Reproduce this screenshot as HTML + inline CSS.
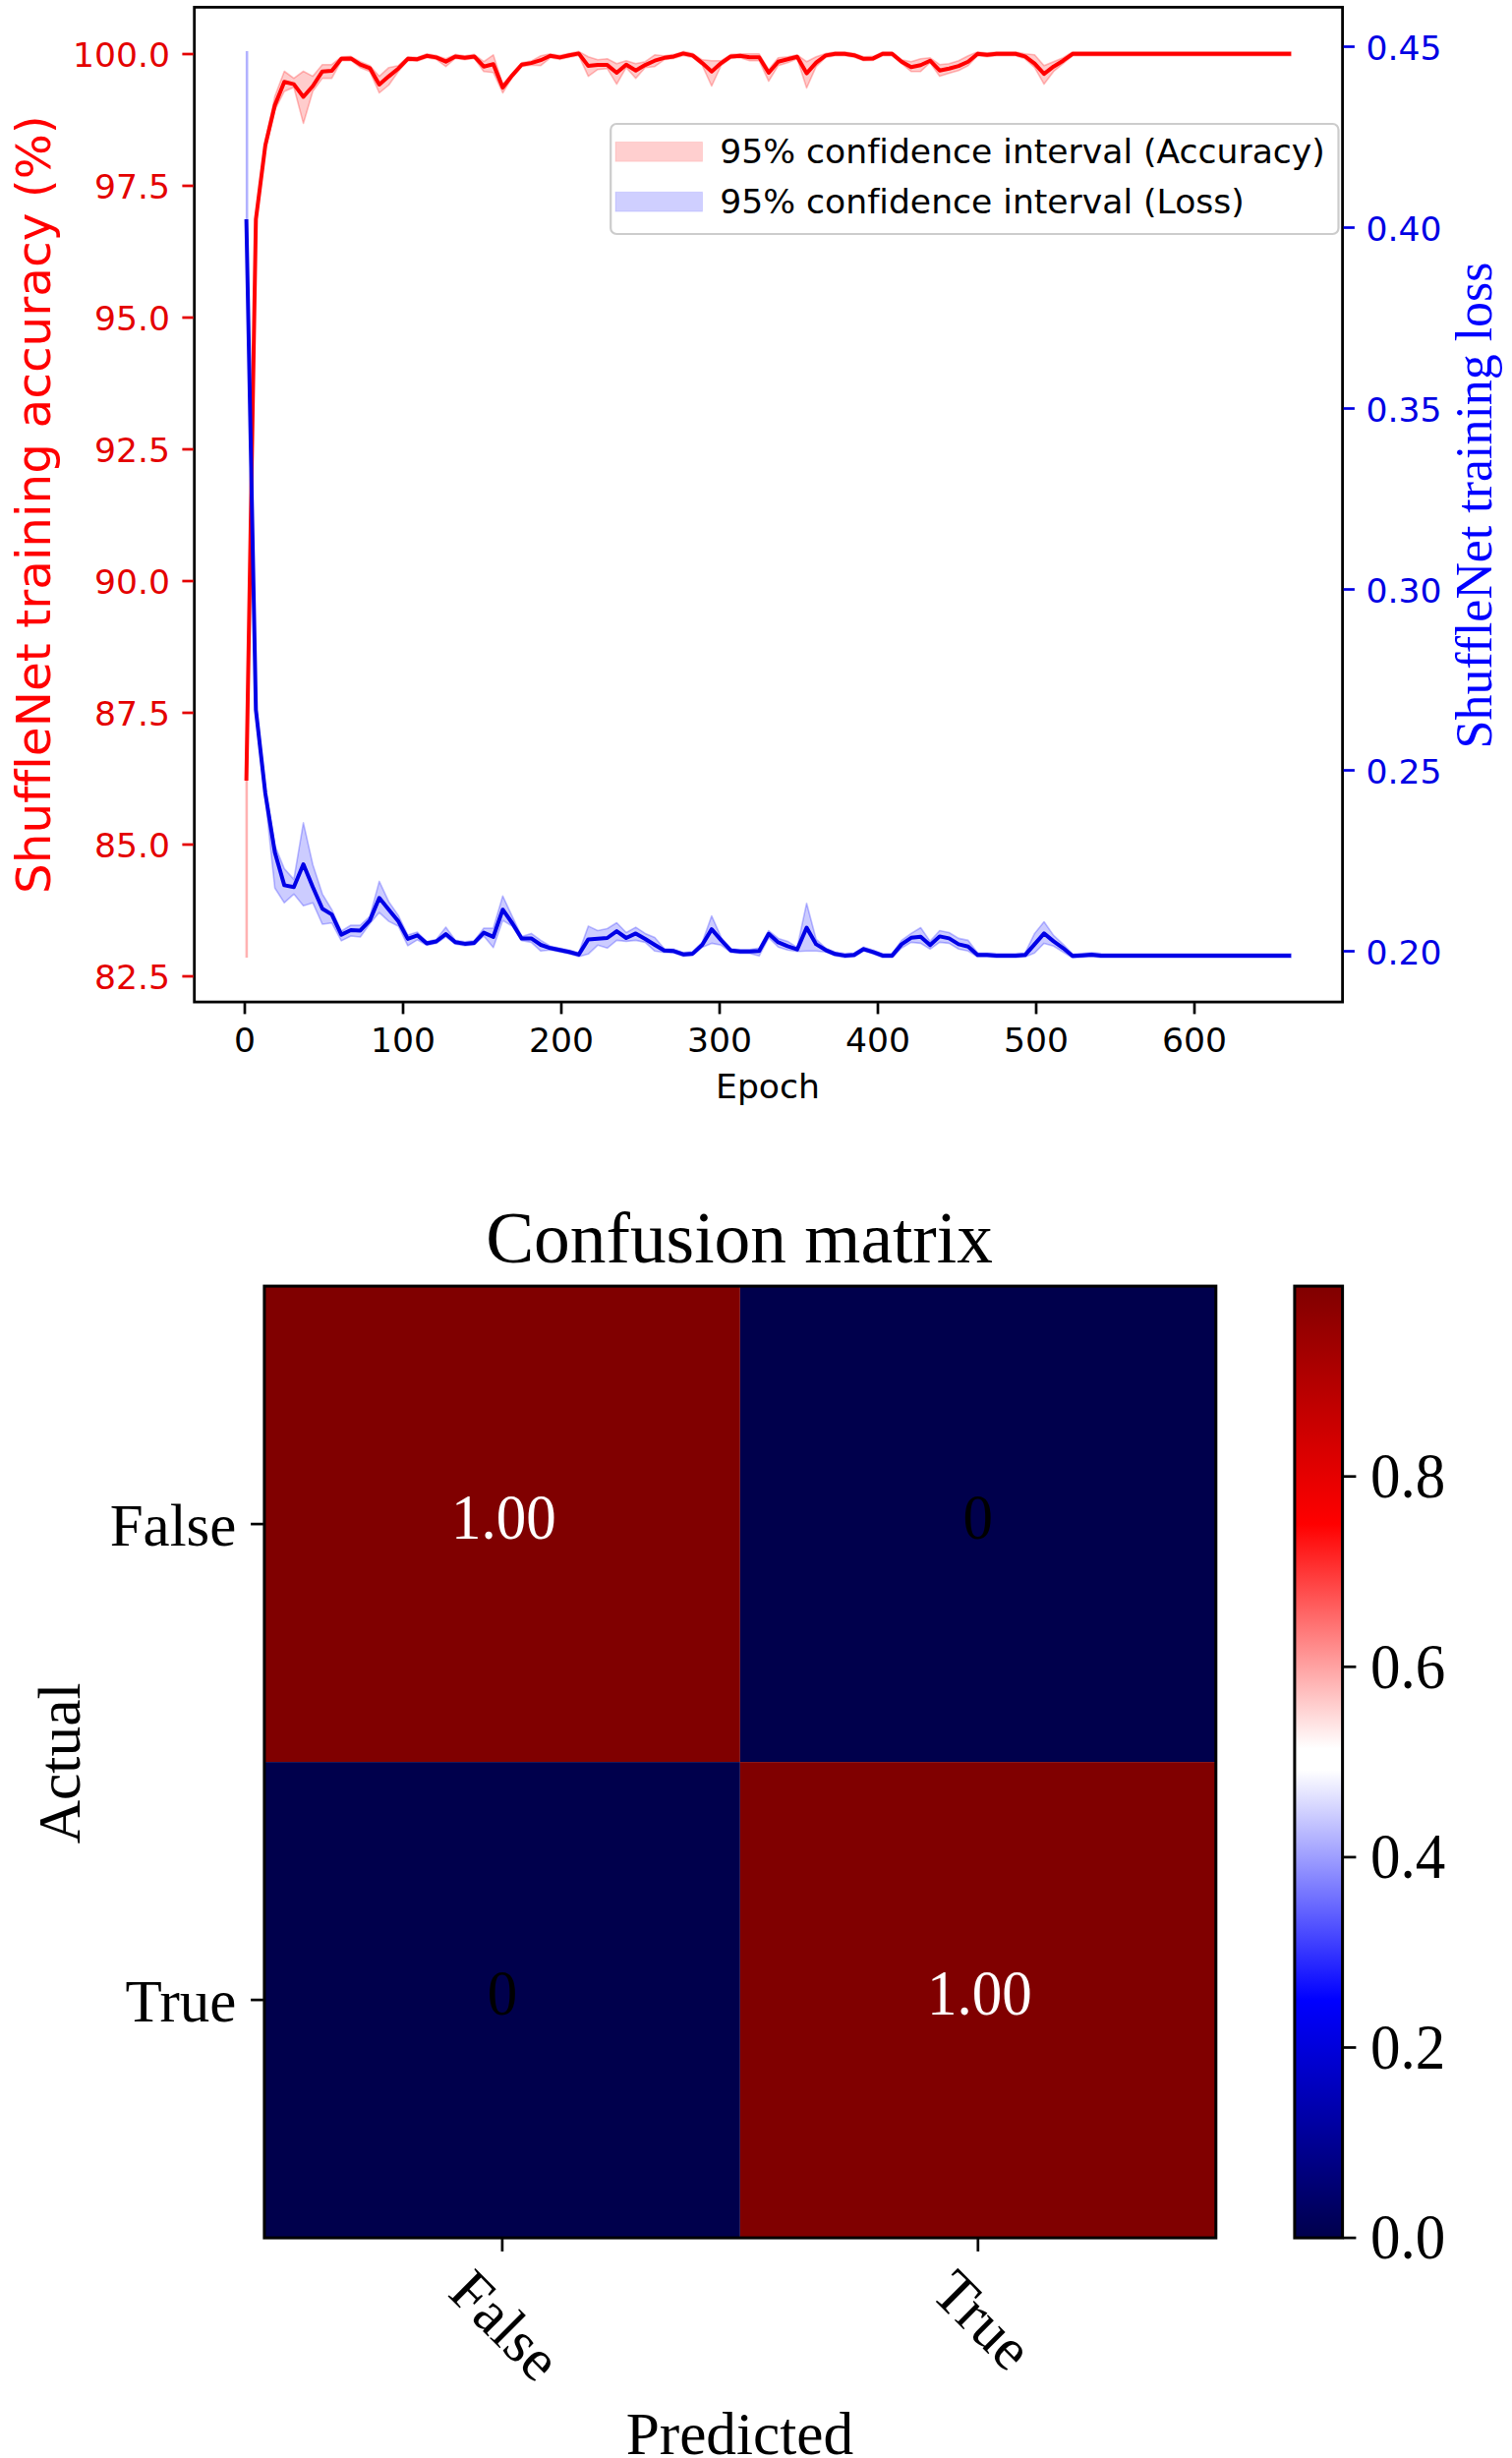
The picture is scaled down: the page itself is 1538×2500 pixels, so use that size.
<!DOCTYPE html>
<html><head><meta charset="utf-8"><title>ShuffleNet training curves and confusion matrix</title>
<style>
html,body{margin:0;padding:0;background:#fff;}
body{width:1538px;height:2500px;overflow:hidden;}
svg{display:block;}
text{font-variant-ligatures:none;font-kerning:normal;}
.top text{font-family:"DejaVu Sans","Liberation Sans",sans-serif;}
.cm text,.top text.ser{font-family:"Liberation Serif","DejaVu Serif",serif;}
</style></head>
<body>
<svg width="1538" height="2500" viewBox="0 0 1538 2500">
<defs>
<linearGradient id="seis" x1="0" y1="1" x2="0" y2="0">
<stop offset="0" stop-color="#00004c"/><stop offset="0.25" stop-color="#0000ff"/><stop offset="0.492" stop-color="#ffffff"/><stop offset="0.514" stop-color="#ffffff"/><stop offset="0.75" stop-color="#ff0000"/><stop offset="1" stop-color="#800000"/>
</linearGradient>
</defs>
<rect x="0" y="0" width="1538" height="2500" fill="#fff"/>
<g class="top">
<rect x="197.7" y="7.35" width="1167.8999999999999" height="1011.75" fill="#fff" stroke="none"/>
<polygon points="260.3,221.0 269.9,143.0 279.6,98.0 289.2,72.5 298.9,79.6 308.6,72.5 318.2,77.6 327.9,65.7 337.5,65.7 347.2,57.8 356.9,57.4 366.5,62.7 376.2,66.7 385.8,77.6 395.5,68.7 405.2,66.7 414.8,57.8 424.5,58.2 434.1,54.8 443.8,56.4 453.5,59.8 463.1,55.4 472.8,56.8 482.4,55.4 492.1,62.7 501.8,55.8 511.4,85.6 521.1,74.6 530.7,63.7 540.4,62.1 550.1,56.8 559.7,54.8 569.4,56.4 579.0,54.2 588.7,52.4 598.4,57.8 608.0,60.8 617.7,59.8 627.3,64.7 637.0,61.7 646.7,64.7 656.3,62.7 666.0,55.8 675.6,56.8 685.3,55.4 695.0,52.4 704.6,54.4 714.3,60.8 723.9,61.7 733.6,61.7 743.3,55.4 752.9,54.8 762.6,54.8 772.2,54.8 781.9,70.7 791.6,58.8 801.2,57.8 810.9,55.8 820.5,62.7 830.2,57.8 839.9,54.4 849.5,52.8 859.2,52.8 868.8,54.2 878.5,57.8 888.2,57.4 897.8,52.8 907.5,52.8 917.1,60.7 926.8,62.7 936.5,59.8 946.1,58.8 955.8,65.7 965.4,64.7 975.1,61.7 984.8,56.8 994.4,52.8 1004.1,53.8 1013.7,52.8 1023.4,52.8 1033.1,52.8 1042.7,54.8 1052.4,55.8 1062.0,66.7 1071.7,62.7 1081.4,58.8 1091.0,52.8 1100.7,52.8 1110.3,52.8 1120.0,52.8 1129.7,52.8 1139.3,52.8 1149.0,52.8 1158.6,52.8 1168.3,52.8 1178.0,52.8 1187.6,52.8 1197.3,52.8 1206.9,52.8 1216.6,52.8 1226.3,52.8 1235.9,52.8 1245.6,52.8 1255.2,52.8 1264.9,52.8 1274.6,52.8 1284.2,52.8 1293.9,52.8 1303.5,52.8 1313.2,52.8 1313.2,56.8 1303.5,56.8 1293.9,56.8 1284.2,56.8 1274.6,56.8 1264.9,56.8 1255.2,56.8 1245.6,56.8 1235.9,56.8 1226.3,56.8 1216.6,56.8 1206.9,56.8 1197.3,56.8 1187.6,56.8 1178.0,56.8 1168.3,56.8 1158.6,56.8 1149.0,56.8 1139.3,56.8 1129.7,56.8 1120.0,56.8 1110.3,56.8 1100.7,56.8 1091.0,56.8 1081.4,64.7 1071.7,72.7 1062.0,85.6 1052.4,68.7 1042.7,59.8 1033.1,56.8 1023.4,56.8 1013.7,56.8 1004.1,57.8 994.4,56.8 984.8,66.7 975.1,71.7 965.4,74.6 955.8,77.6 946.1,63.7 936.5,72.7 926.8,72.7 917.1,64.7 907.5,56.8 897.8,56.8 888.2,61.4 878.5,61.8 868.8,58.2 859.2,56.8 849.5,56.8 839.9,58.4 830.2,67.7 820.5,89.5 810.9,59.8 801.2,63.7 791.6,66.7 781.9,82.6 772.2,61.7 762.6,61.7 752.9,58.8 743.3,59.4 733.6,66.5 723.9,87.5 714.3,66.5 704.6,58.4 695.0,56.4 685.3,59.4 675.6,60.8 666.0,67.7 656.3,68.7 646.7,79.6 637.0,68.7 627.3,85.6 617.7,69.7 608.0,70.7 598.4,77.6 588.7,56.4 579.0,58.2 569.4,60.4 559.7,58.8 550.1,66.7 540.4,66.1 530.7,67.7 521.1,78.6 511.4,94.5 501.8,73.7 492.1,72.7 482.4,59.4 472.8,60.8 463.1,59.4 453.5,67.7 443.8,60.4 434.1,58.8 424.5,62.2 414.8,61.8 405.2,72.7 395.5,86.5 385.8,94.5 376.2,72.7 366.5,68.7 356.9,61.4 347.2,61.8 337.5,79.6 327.9,79.6 318.2,92.8 308.6,125.4 298.9,88.8 289.2,93.0 279.6,112.0 269.9,152.0 260.3,225.0" fill="#ff0000" fill-opacity="0.2" stroke="#ff0000" stroke-opacity="0.25" stroke-width="1.6" stroke-linejoin="round"/>
<polygon points="260.3,716.0 269.9,801.0 279.6,860.0 289.2,883.5 298.9,894.4 308.6,836.9 318.2,879.5 327.9,909.3 337.5,925.2 347.2,947.0 356.9,941.0 366.5,941.0 376.2,932.1 385.8,896.4 395.5,917.2 405.2,931.1 414.8,951.0 424.5,948.0 434.1,957.5 443.8,955.5 453.5,943.0 463.1,956.3 472.8,957.9 482.4,956.9 492.1,944.0 501.8,944.0 511.4,911.3 521.1,932.1 530.7,952.6 540.4,949.4 550.1,956.4 559.7,962.3 569.4,964.3 579.0,966.3 588.7,968.9 598.4,941.9 608.0,946.5 617.7,944.5 627.3,938.5 637.0,948.5 646.7,943.1 656.3,949.4 666.0,953.4 675.6,964.7 685.3,965.3 695.0,968.7 704.6,967.9 714.3,958.4 723.9,931.6 733.6,953.4 743.3,964.7 752.9,965.7 762.6,965.7 772.2,964.3 781.9,946.5 791.6,954.4 801.2,957.4 810.9,963.7 820.5,918.7 830.2,955.4 839.9,964.3 849.5,968.3 859.2,969.9 868.8,969.3 878.5,963.3 888.2,966.3 897.8,969.9 907.5,969.9 917.1,956.4 926.8,949.4 936.5,943.5 946.1,957.4 955.8,946.5 965.4,948.5 975.1,954.4 984.8,956.4 994.4,969.3 1004.1,969.3 1013.7,969.9 1023.4,969.9 1033.1,969.9 1042.7,969.3 1052.4,949.4 1062.0,937.5 1071.7,951.4 1081.4,960.4 1091.0,970.3 1100.7,969.7 1110.3,968.9 1120.0,969.9 1129.7,970.0 1139.3,970.0 1149.0,970.0 1158.6,970.0 1168.3,970.0 1178.0,970.0 1187.6,970.0 1197.3,970.0 1206.9,970.0 1216.6,970.0 1226.3,970.0 1235.9,970.0 1245.6,970.0 1255.2,970.0 1264.9,970.0 1274.6,970.0 1284.2,970.0 1293.9,970.0 1303.5,970.0 1313.2,970.0 1313.2,974.0 1303.5,974.0 1293.9,974.0 1284.2,974.0 1274.6,974.0 1264.9,974.0 1255.2,974.0 1245.6,974.0 1235.9,974.0 1226.3,974.0 1216.6,974.0 1206.9,974.0 1197.3,974.0 1187.6,974.0 1178.0,974.0 1168.3,974.0 1158.6,974.0 1149.0,974.0 1139.3,974.0 1129.7,974.0 1120.0,973.9 1110.3,972.9 1100.7,973.7 1091.0,974.3 1081.4,968.3 1071.7,962.3 1062.0,959.4 1052.4,969.3 1042.7,973.3 1033.1,973.9 1023.4,973.9 1013.7,973.9 1004.1,973.3 994.4,973.3 984.8,967.3 975.1,965.3 965.4,959.4 955.8,958.4 946.1,965.3 936.5,959.4 926.8,958.4 917.1,964.3 907.5,973.9 897.8,973.9 888.2,970.3 878.5,967.3 868.8,973.3 859.2,973.9 849.5,972.3 839.9,968.3 830.2,967.3 820.5,967.3 810.9,967.7 801.2,966.3 791.6,963.3 781.9,953.8 772.2,972.3 762.6,969.7 752.9,969.7 743.3,968.7 733.6,961.3 723.9,959.4 714.3,963.5 704.6,971.9 695.0,972.7 685.3,969.3 675.6,968.7 666.0,967.3 656.3,958.4 646.7,956.4 637.0,957.4 627.3,956.4 617.7,964.3 608.0,961.3 598.4,970.3 588.7,972.9 579.0,970.3 569.4,968.3 559.7,966.3 550.1,967.3 540.4,958.4 530.7,956.6 521.1,942.0 511.4,936.1 501.8,963.8 492.1,951.9 482.4,960.9 472.8,961.9 463.1,960.3 453.5,952.9 443.8,959.5 434.1,961.5 424.5,955.9 414.8,961.9 405.2,942.0 395.5,937.1 385.8,928.1 376.2,939.5 366.5,953.0 356.9,952.0 347.2,956.9 337.5,938.7 327.9,940.0 318.2,918.2 308.6,921.2 298.9,909.3 289.2,918.2 279.6,903.3 269.9,813.0 260.3,728.0" fill="#0000ff" fill-opacity="0.2" stroke="#0000ff" stroke-opacity="0.25" stroke-width="1.6" stroke-linejoin="round"/>
<rect x="249.6" y="794" width="2.6" height="180" fill="#ff0000" fill-opacity="0.3"/>
<rect x="249.9" y="52" width="2.6" height="171" fill="#0000ff" fill-opacity="0.3"/>
<polyline points="250.6,794.0 260.3,223.0 269.9,147.7 279.6,107.0 289.2,83.2 298.9,85.6 308.6,98.5 318.2,87.5 327.9,72.7 337.5,72.1 347.2,59.8 356.9,59.4 366.5,65.7 376.2,69.3 385.8,86.0 395.5,77.6 405.2,69.7 414.8,59.8 424.5,60.2 434.1,56.8 443.8,58.4 453.5,62.7 463.1,57.4 472.8,58.8 482.4,57.4 492.1,67.7 501.8,65.3 511.4,89.1 521.1,76.6 530.7,65.7 540.4,64.1 550.1,61.2 559.7,56.8 569.4,58.4 579.0,56.2 588.7,54.4 598.4,67.1 608.0,66.1 617.7,66.1 627.3,74.0 637.0,65.7 646.7,71.7 656.3,66.1 666.0,61.7 675.6,58.8 685.3,57.4 695.0,54.4 704.6,56.4 714.3,64.1 723.9,72.7 733.6,64.1 743.3,57.4 752.9,56.8 762.6,58.2 772.2,58.2 781.9,74.0 791.6,62.7 801.2,60.2 810.9,57.8 820.5,74.6 830.2,63.7 839.9,56.4 849.5,54.8 859.2,54.8 868.8,56.2 878.5,59.8 888.2,59.4 897.8,54.8 907.5,54.8 917.1,62.7 926.8,68.3 936.5,66.3 946.1,61.7 955.8,71.7 965.4,69.7 975.1,67.1 984.8,62.7 994.4,54.8 1004.1,55.8 1013.7,54.8 1023.4,54.8 1033.1,54.8 1042.7,57.4 1052.4,64.7 1062.0,75.2 1071.7,67.7 1081.4,61.7 1091.0,54.8 1100.7,54.8 1110.3,54.8 1120.0,54.8 1129.7,54.8 1139.3,54.8 1149.0,54.8 1158.6,54.8 1168.3,54.8 1178.0,54.8 1187.6,54.8 1197.3,54.8 1206.9,54.8 1216.6,54.8 1226.3,54.8 1235.9,54.8 1245.6,54.8 1255.2,54.8 1264.9,54.8 1274.6,54.8 1284.2,54.8 1293.9,54.8 1303.5,54.8 1313.2,54.8" fill="none" stroke="#ff0000" stroke-width="4.0" stroke-linejoin="round"/>
<polyline points="250.6,223.0 260.3,722.0 269.9,807.0 279.6,867.0 289.2,900.4 298.9,902.3 308.6,879.1 318.2,902.3 327.9,924.2 337.5,930.1 347.2,950.6 356.9,946.0 366.5,946.4 376.2,936.1 385.8,913.3 395.5,925.2 405.2,937.1 414.8,954.9 424.5,951.3 434.1,959.5 443.8,957.5 453.5,950.0 463.1,958.3 472.8,959.9 482.4,958.9 492.1,948.6 501.8,952.9 511.4,925.2 521.1,939.0 530.7,954.6 540.4,954.4 550.1,961.0 559.7,964.3 569.4,966.3 579.0,968.3 588.7,970.9 598.4,955.4 608.0,954.8 617.7,954.0 627.3,947.1 637.0,954.0 646.7,949.4 656.3,955.0 666.0,961.0 675.6,966.7 685.3,967.3 695.0,970.7 704.6,969.9 714.3,961.0 723.9,945.1 733.6,956.4 743.3,966.7 752.9,967.7 762.6,967.7 772.2,967.3 781.9,949.8 791.6,958.4 801.2,962.3 810.9,965.7 820.5,943.5 830.2,960.4 839.9,966.3 849.5,970.3 859.2,971.9 868.8,971.3 878.5,965.3 888.2,968.3 897.8,971.9 907.5,971.9 917.1,960.4 926.8,953.8 936.5,952.8 946.1,961.3 955.8,952.4 965.4,954.4 975.1,960.4 984.8,962.7 994.4,971.3 1004.1,971.3 1013.7,971.9 1023.4,971.9 1033.1,971.9 1042.7,971.3 1052.4,960.4 1062.0,949.4 1071.7,957.4 1081.4,964.3 1091.0,972.3 1100.7,971.7 1110.3,970.9 1120.0,971.9 1129.7,972.0 1139.3,972.0 1149.0,972.0 1158.6,972.0 1168.3,972.0 1178.0,972.0 1187.6,972.0 1197.3,972.0 1206.9,972.0 1216.6,972.0 1226.3,972.0 1235.9,972.0 1245.6,972.0 1255.2,972.0 1264.9,972.0 1274.6,972.0 1284.2,972.0 1293.9,972.0 1303.5,972.0 1313.2,972.0" fill="none" stroke="#0000e6" stroke-width="4.0" stroke-linejoin="round"/>
<rect x="197.7" y="7.35" width="1167.8999999999999" height="1011.75" fill="none" stroke="#000" stroke-width="2.8"/>
<line x1="185.4" y1="55.0" x2="196.7" y2="55.0" stroke="#e40000" stroke-width="2.7"/>
<text x="173.1" y="68.1" text-anchor="end" font-size="34.6" fill="#e40000">100.0</text>
<line x1="185.4" y1="189.0" x2="196.7" y2="189.0" stroke="#e40000" stroke-width="2.7"/>
<text x="173.1" y="202.1" text-anchor="end" font-size="34.6" fill="#e40000">97.5</text>
<line x1="185.4" y1="323.0" x2="196.7" y2="323.0" stroke="#e40000" stroke-width="2.7"/>
<text x="173.1" y="336.1" text-anchor="end" font-size="34.6" fill="#e40000">95.0</text>
<line x1="185.4" y1="457.0" x2="196.7" y2="457.0" stroke="#e40000" stroke-width="2.7"/>
<text x="173.1" y="470.1" text-anchor="end" font-size="34.6" fill="#e40000">92.5</text>
<line x1="185.4" y1="591.0" x2="196.7" y2="591.0" stroke="#e40000" stroke-width="2.7"/>
<text x="173.1" y="604.1" text-anchor="end" font-size="34.6" fill="#e40000">90.0</text>
<line x1="185.4" y1="725.0" x2="196.7" y2="725.0" stroke="#e40000" stroke-width="2.7"/>
<text x="173.1" y="738.1" text-anchor="end" font-size="34.6" fill="#e40000">87.5</text>
<line x1="185.4" y1="859.0" x2="196.7" y2="859.0" stroke="#e40000" stroke-width="2.7"/>
<text x="173.1" y="872.1" text-anchor="end" font-size="34.6" fill="#e40000">85.0</text>
<line x1="185.4" y1="993.0" x2="196.7" y2="993.0" stroke="#e40000" stroke-width="2.7"/>
<text x="173.1" y="1006.1" text-anchor="end" font-size="34.6" fill="#e40000">82.5</text>
<line x1="1366.6" y1="47.5" x2="1377.9" y2="47.5" stroke="#0000e4" stroke-width="2.7"/>
<text x="1389.6" y="60.6" font-size="34.6" fill="#0000e4">0.45</text>
<line x1="1366.6" y1="231.5" x2="1377.9" y2="231.5" stroke="#0000e4" stroke-width="2.7"/>
<text x="1389.6" y="244.6" font-size="34.6" fill="#0000e4">0.40</text>
<line x1="1366.6" y1="415.5" x2="1377.9" y2="415.5" stroke="#0000e4" stroke-width="2.7"/>
<text x="1389.6" y="428.6" font-size="34.6" fill="#0000e4">0.35</text>
<line x1="1366.6" y1="599.5" x2="1377.9" y2="599.5" stroke="#0000e4" stroke-width="2.7"/>
<text x="1389.6" y="612.6" font-size="34.6" fill="#0000e4">0.30</text>
<line x1="1366.6" y1="783.5" x2="1377.9" y2="783.5" stroke="#0000e4" stroke-width="2.7"/>
<text x="1389.6" y="796.6" font-size="34.6" fill="#0000e4">0.25</text>
<line x1="1366.6" y1="967.5" x2="1377.9" y2="967.5" stroke="#0000e4" stroke-width="2.7"/>
<text x="1389.6" y="980.6" font-size="34.6" fill="#0000e4">0.20</text>
<line x1="249.0" y1="1020.1" x2="249.0" y2="1031.4" stroke="#000" stroke-width="2.7"/>
<text x="249.0" y="1070.2" text-anchor="middle" font-size="34.6" fill="#000">0</text>
<line x1="410.0" y1="1020.1" x2="410.0" y2="1031.4" stroke="#000" stroke-width="2.7"/>
<text x="410.0" y="1070.2" text-anchor="middle" font-size="34.6" fill="#000">100</text>
<line x1="571.0" y1="1020.1" x2="571.0" y2="1031.4" stroke="#000" stroke-width="2.7"/>
<text x="571.0" y="1070.2" text-anchor="middle" font-size="34.6" fill="#000">200</text>
<line x1="732.0" y1="1020.1" x2="732.0" y2="1031.4" stroke="#000" stroke-width="2.7"/>
<text x="732.0" y="1070.2" text-anchor="middle" font-size="34.6" fill="#000">300</text>
<line x1="893.0" y1="1020.1" x2="893.0" y2="1031.4" stroke="#000" stroke-width="2.7"/>
<text x="893.0" y="1070.2" text-anchor="middle" font-size="34.6" fill="#000">400</text>
<line x1="1054.0" y1="1020.1" x2="1054.0" y2="1031.4" stroke="#000" stroke-width="2.7"/>
<text x="1054.0" y="1070.2" text-anchor="middle" font-size="34.6" fill="#000">500</text>
<line x1="1215.0" y1="1020.1" x2="1215.0" y2="1031.4" stroke="#000" stroke-width="2.7"/>
<text x="1215.0" y="1070.2" text-anchor="middle" font-size="34.6" fill="#000">600</text>
<text x="781" y="1116.8" text-anchor="middle" font-size="34.6" fill="#000">Epoch</text>
<text transform="translate(50.8,513.2) rotate(-90)" text-anchor="middle" font-size="48.5" fill="#ff0000">ShuffleNet training accuracy (%)</text>
<text transform="translate(1516.9,514) rotate(-90)" text-anchor="middle" font-size="51.9" fill="#0000ff" class="ser">ShuffleNet training loss</text>
<rect x="621.2" y="126" width="740.3" height="112" rx="6" ry="6" fill="#fff" fill-opacity="0.8" stroke="#ccc" stroke-width="2.2"/>
<rect x="626" y="144.4" width="88.5" height="19.8" fill="#ff0000" fill-opacity="0.19" stroke="#ff0000" stroke-opacity="0.1" stroke-width="1"/>
<rect x="626" y="195.3" width="88.5" height="19.8" fill="#0000ff" fill-opacity="0.19" stroke="#0000ff" stroke-opacity="0.1" stroke-width="1"/>
<text x="732.3" y="166" font-size="34.57" fill="#000">95% confidence interval (Accuracy)</text>
<text x="732.3" y="216.8" font-size="34.57" fill="#000">95% confidence interval (Loss)</text>
</g>
<g class="cm">
<rect x="268.9" y="1308.1" width="483.94999999999993" height="484.0" fill="#800000"/>
<rect x="752.8499999999999" y="1308.1" width="483.95000000000005" height="484.0" fill="#00004c"/>
<rect x="268.9" y="1792.1" width="483.94999999999993" height="484.0" fill="#00004c"/>
<rect x="752.8499999999999" y="1792.1" width="483.95000000000005" height="484.0" fill="#800000"/>
<rect x="268.9" y="1308.1" width="967.9" height="968.0" fill="none" stroke="#000" stroke-width="3"/>
<text transform="translate(512.4,1564.8) scale(1,1.085)" text-anchor="middle" font-size="61" fill="#fff">1.00</text>
<text transform="translate(994.8,1564.8) scale(1,1.085)" text-anchor="middle" font-size="61" fill="#000">0</text>
<text transform="translate(510.9,2048.8) scale(1,1.085)" text-anchor="middle" font-size="61" fill="#000">0</text>
<text transform="translate(996.3,2048.8) scale(1,1.085)" text-anchor="middle" font-size="61" fill="#fff">1.00</text>
<text x="752" y="1283.6" text-anchor="middle" font-size="73.4" fill="#000">Confusion matrix</text>
<line x1="255.09999999999997" y1="1550.1" x2="267.9" y2="1550.1" stroke="#000" stroke-width="2.7"/>
<text x="240.4" y="1571.9" text-anchor="end" font-size="61" fill="#000">False</text>
<line x1="255.09999999999997" y1="2034.1" x2="267.9" y2="2034.1" stroke="#000" stroke-width="2.7"/>
<text x="240.4" y="2055.9" text-anchor="end" font-size="61" fill="#000">True</text>
<line x1="510.9" y1="2277.1" x2="510.9" y2="2289.9" stroke="#000" stroke-width="2.7"/>
<line x1="994.8" y1="2277.1" x2="994.8" y2="2289.9" stroke="#000" stroke-width="2.7"/>
<text transform="translate(513.7,2365.5) rotate(45)" text-anchor="middle" y="20" font-size="61" fill="#000">False</text>
<text transform="translate(999.3,2360) rotate(45)" text-anchor="middle" y="20" font-size="61" fill="#000">True</text>
<text x="752.4" y="2495.8" text-anchor="middle" font-size="61.3" fill="#000">Predicted</text>
<text transform="translate(81.2,1793.4) rotate(-90) scale(1,1.01)" text-anchor="middle" font-size="61.5" fill="#000">Actual</text>
<rect x="1316.9" y="1308.1" width="48.69999999999982" height="968.0" fill="url(#seis)" stroke="#000" stroke-width="3"/>
<line x1="1366.6" y1="2276.1" x2="1379.3999999999999" y2="2276.1" stroke="#000" stroke-width="2.7"/>
<text transform="translate(1394,2297.4) scale(1,1.07)" font-size="61" fill="#000">0.0</text>
<line x1="1366.6" y1="2082.5" x2="1379.3999999999999" y2="2082.5" stroke="#000" stroke-width="2.7"/>
<text transform="translate(1394,2103.8) scale(1,1.07)" font-size="61" fill="#000">0.2</text>
<line x1="1366.6" y1="1888.9" x2="1379.3999999999999" y2="1888.9" stroke="#000" stroke-width="2.7"/>
<text transform="translate(1394,1910.2) scale(1,1.07)" font-size="61" fill="#000">0.4</text>
<line x1="1366.6" y1="1695.3" x2="1379.3999999999999" y2="1695.3" stroke="#000" stroke-width="2.7"/>
<text transform="translate(1394,1716.6) scale(1,1.07)" font-size="61" fill="#000">0.6</text>
<line x1="1366.6" y1="1501.7" x2="1379.3999999999999" y2="1501.7" stroke="#000" stroke-width="2.7"/>
<text transform="translate(1394,1523.0) scale(1,1.07)" font-size="61" fill="#000">0.8</text>
</g>
</svg>
</body></html>
